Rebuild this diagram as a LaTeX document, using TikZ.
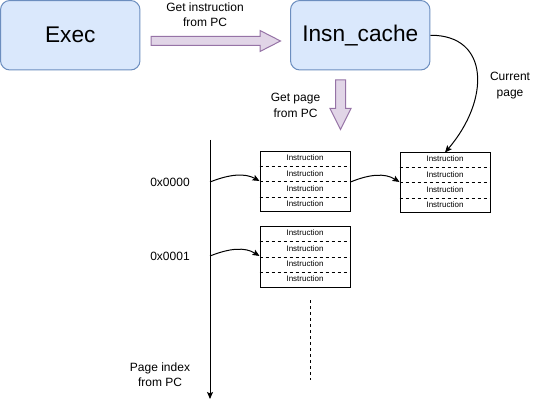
\documentclass[tikz,border=0pt]{standalone}
\usepackage{fontspec}
\setmainfont{Liberation Sans}
\usetikzlibrary{arrows.meta,calc}
\definecolor{boxfill}{HTML}{DAE8FC}
\definecolor{boxline}{HTML}{6C8EBF}
\definecolor{fatfill}{HTML}{E1D5E7}
\definecolor{fatline}{HTML}{9673A6}
\tikzset{
  bigbox/.style={draw=boxline, fill=boxfill, rounded corners=7pt, line width=0.75pt,
    minimum width=104.6pt, minimum height=52.1pt, inner sep=0pt,
    font=\fontsize{17}{20}\selectfont},
  pagebox/.style={draw=black, line width=0.75pt, minimum width=67.5pt, minimum height=45pt, inner sep=0pt},
  sep/.style={draw=black, line width=0.75pt, dash pattern=on 2.25pt off 2.25pt},
  insn/.style={font=\fontsize{6}{7}\selectfont, inner sep=0pt},
  lbl/.style={font=\fontsize{9}{11.5}\selectfont, align=center, inner sep=0pt},
  fat/.style={draw=fatline, fill=fatfill, line width=0.75pt, line join=miter},
  arr/.style={draw=black, line width=0.75pt, -{Stealth[length=5.25pt,width=4.5pt,inset=1pt]}},
}
\newcommand{\mkpage}[2]{%
  \node[pagebox] (#1) at (#2) {};
  \foreach \k in {1,2,3} {
    \draw[sep] ($(#1.north west)!\k/4!(#1.south west)$) -- ($(#1.north east)!\k/4!(#1.south east)$);
  }
  \foreach \k in {1,2,3,4} {
    \node[insn] at ($(#1.north)!{(2*\k-1)/8}!(#1.south)+(0,-1)$) {Instruction};
  }
}
\begin{document}
\begin{tikzpicture}[x=0.75pt,y=-0.75pt]
\useasboundingbox (0,0) rectangle (541,409);

% main boxes
\node[bigbox] (exec) at (70.25,35.25) {Exec};
\node[bigbox] (insn) at (360.25,35.25) {Insn\_cache};

% fat arrow Exec -> Insn_cache
\draw[fat] (151,36.5) -- (260,36.5) -- (260,30.5) -- (280.5,41) -- (260,51.5) -- (260,45.5) -- (151,45.5) -- cycle;
\node[lbl] (lbl1) at (205,15) {Get instruction\\from PC};

% fat arrow down
\draw[fat] (335.5,80) -- (345.5,80) -- (345.5,108.5) -- (351,108.5) -- (340.5,129.5) -- (330,108.5) -- (335.5,108.5) -- cycle;
\node[lbl] (lbl2) at (295.5,105.5) {Get page\\from PC};

% axis
\coordinate (axtop) at (210,140);
\coordinate (axbot) at (210,399);
\draw[arr] (axtop) -- (axbot);
\node[lbl] (lbl3) at (160,375) {Page index\\from PC};

\node[lbl] (a0) at (170,182) {0x0000};
\node[lbl] (a1) at (170,256.5) {0x0001};

% pages
\mkpage{p1}{305,182}
\mkpage{p2}{305,257}
\mkpage{p3}{445,183}

% connectors
\coordinate (c0) at (210,182);
\coordinate (c1) at (210,256);
\draw[arr] (c0) .. controls (230,174) and (245,173) .. ([yshift=0.75pt]p1.west);
\draw[arr] (c1) .. controls (230,248) and (245,247) .. ([yshift=0.75pt]p2.west);
\draw[arr] (p1.east) .. controls (370,174) and (385,173) .. ([yshift=0.75pt]p3.west);
\draw[arr] (insn.east) .. controls (490,35) and (490,100) .. (p3.north);
\node[lbl] (lbl4) at (510,85.5) {Current\\page};

% dashed continuation
\coordinate (d0) at (310,300);
\coordinate (d1) at (310,380);
\draw[sep] (d0) -- (d1);
\end{tikzpicture}
\end{document}
